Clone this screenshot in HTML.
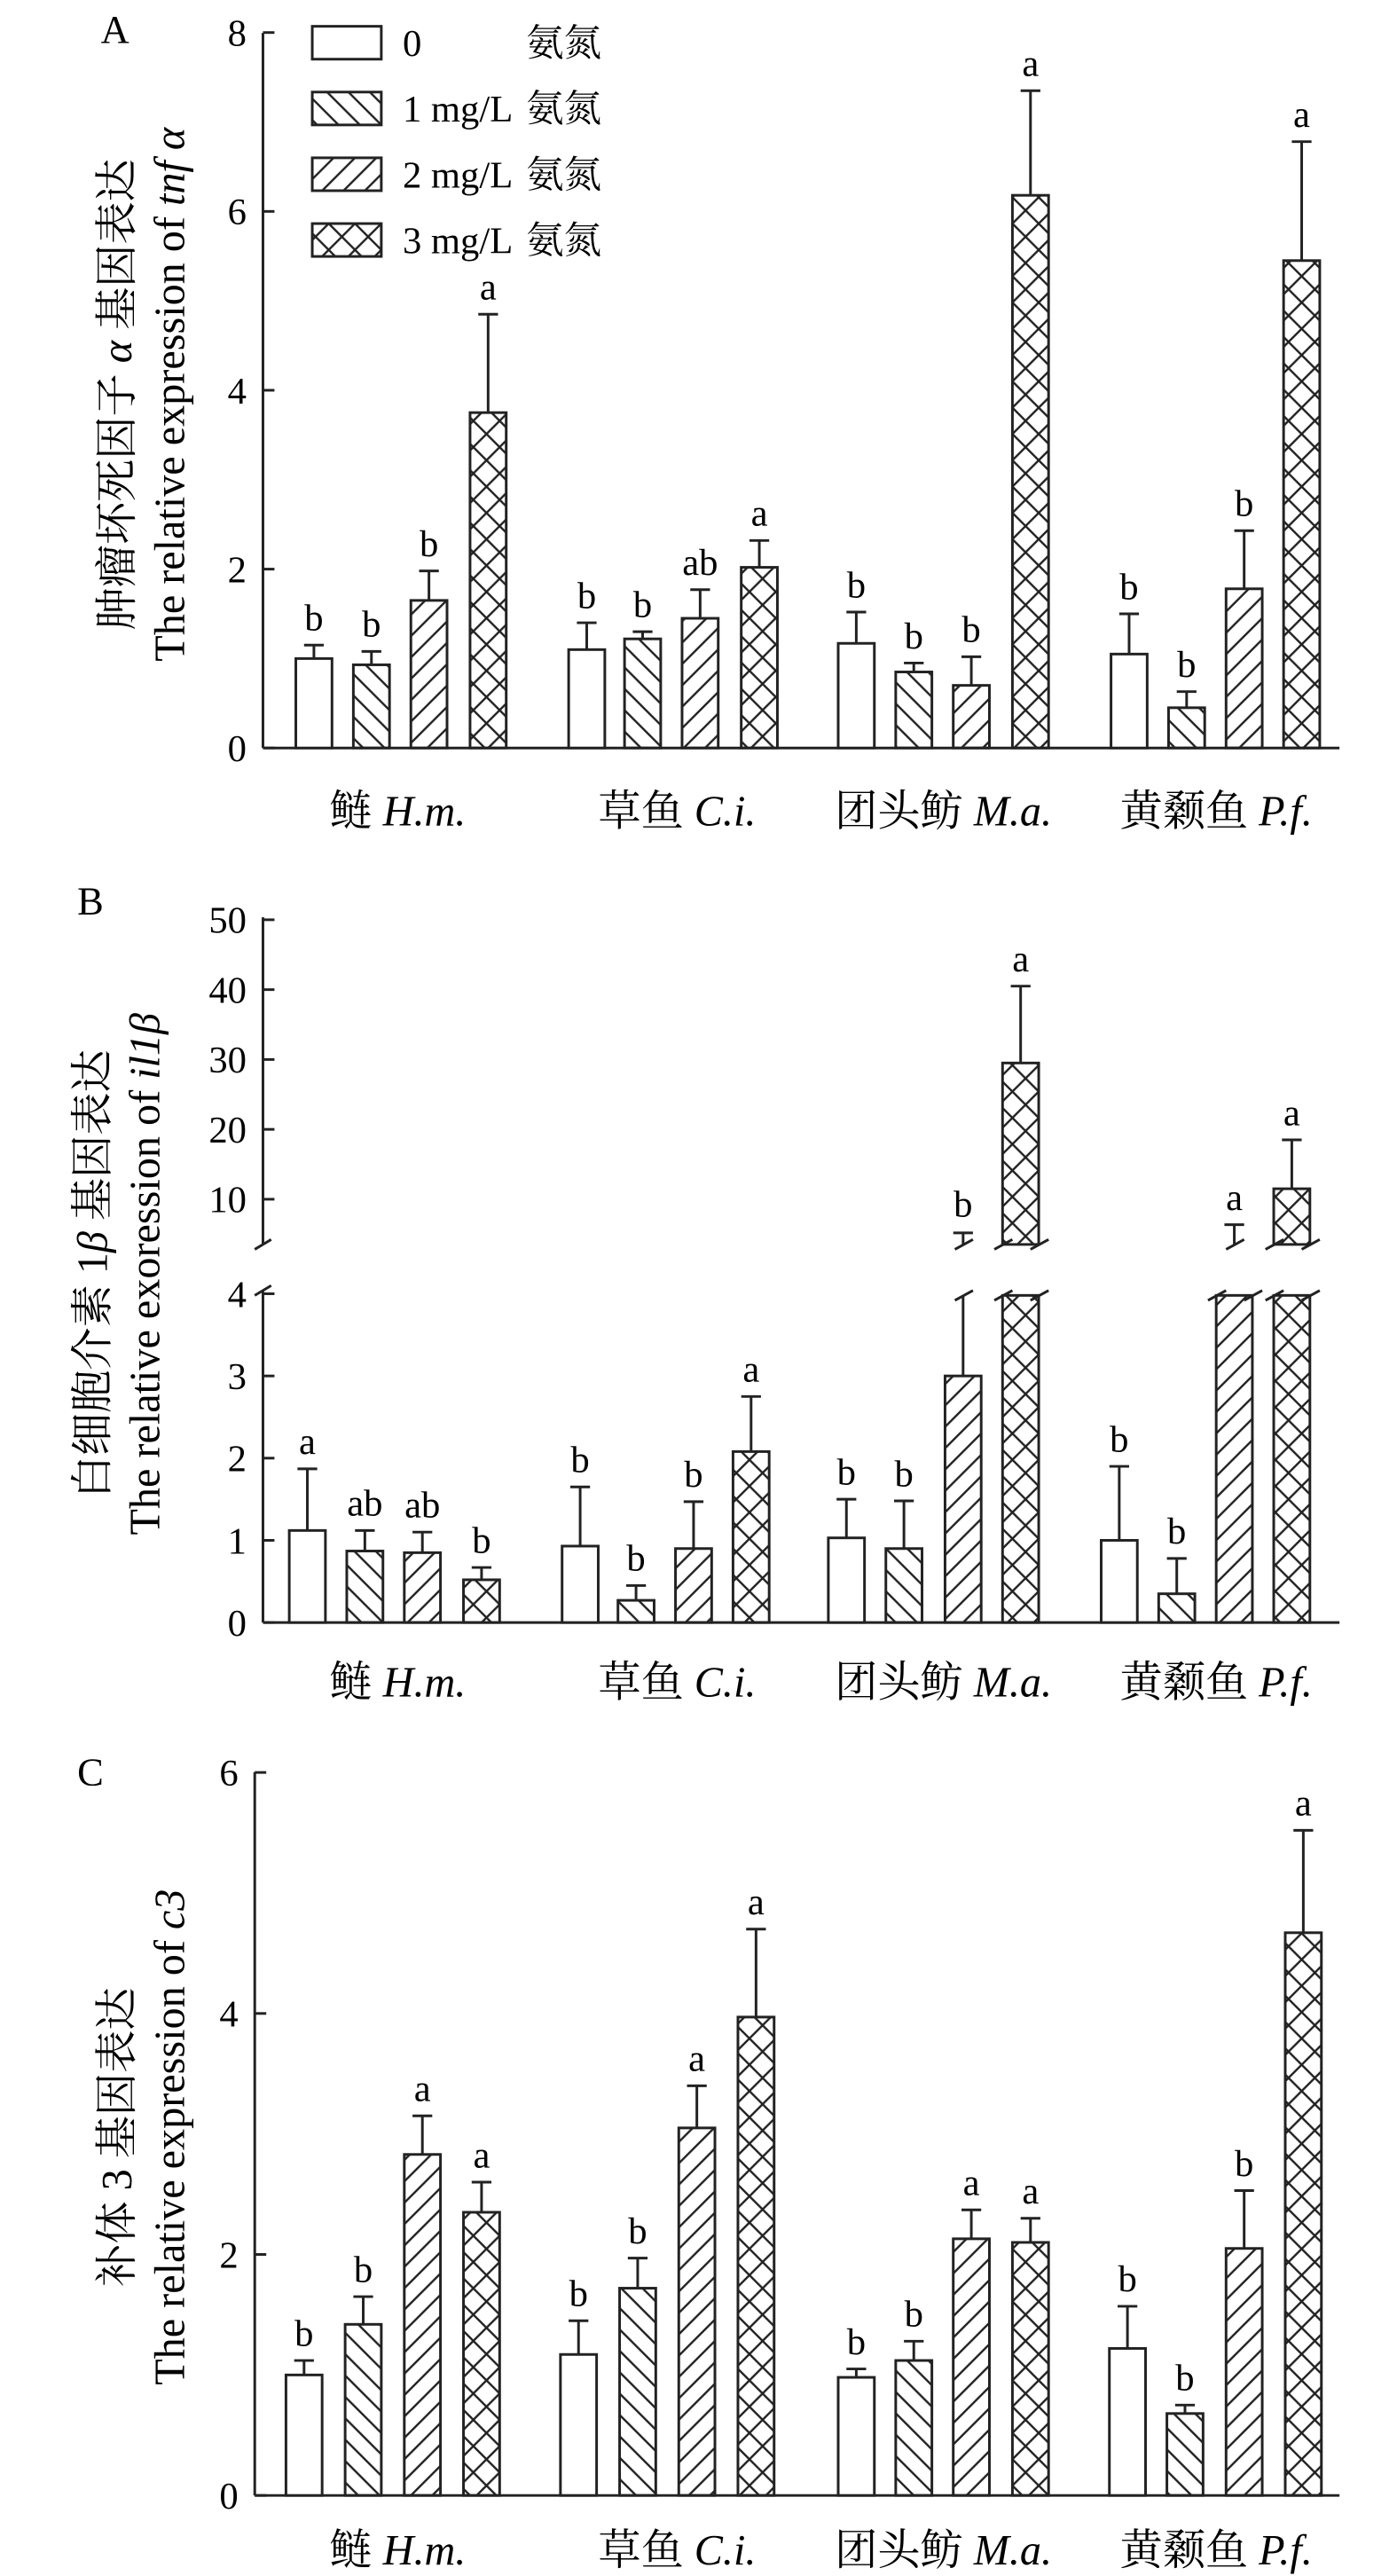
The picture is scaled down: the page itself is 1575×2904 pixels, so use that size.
<!DOCTYPE html>
<html><head><meta charset="utf-8"><style>
html,body{margin:0;padding:0;background:#fff}
svg{display:block}
text{font-family:"Liberation Serif","Noto Serif CJK SC","Noto Sans CJK SC",serif;fill:#000}
</style></head><body>
<svg id="s" width="1575" height="2904" viewBox="0 0 850 1567" preserveAspectRatio="none" xmlns="http://www.w3.org/2000/svg">
<defs>
<pattern id="p2" patternUnits="userSpaceOnUse" width="13" height="13"><path d="M-1,-1 L14,14 M-14,-1 L1,14 M12,-1 L27,14" stroke="#222" stroke-width="1.3"/></pattern>
<pattern id="p3" patternUnits="userSpaceOnUse" width="13" height="13"><path d="M-1,14 L14,-1 M-14,14 L1,-1 M12,14 L27,-1" stroke="#222" stroke-width="1.3"/></pattern>
<pattern id="p4" patternUnits="userSpaceOnUse" width="16" height="16"><path d="M-1,-1 L17,17 M-1,17 L17,-1" stroke="#222" stroke-width="1.3"/></pattern>
</defs>
<g id="g" stroke="#222" stroke-width="1.6" fill="none"></g>
<g id="t"></g>
</svg>
<script>
const G=document.getElementById('g'),T=document.getElementById('t');
function el(p,tag,a,txt){const e=document.createElementNS('http://www.w3.org/2000/svg',tag);for(const k in a)e.setAttribute(k,a[k]);if(txt!==undefined)e.innerHTML=txt;p.appendChild(e);return e;}
function line(x1,y1,x2,y2){el(G,'line',{x1,y1,x2,y2});}
function txt(x,y,s,size,anchor,extra){const a={x,y,'font-size':size||23,'text-anchor':anchor||'middle'};Object.assign(a,extra||{});return el(T,'text',a,s);}
const fills=['#fff','url(#p2)','url(#p3)','url(#p4)'];
function bar(x,w,y0,ytop,k,erry,lab){
  el(G,'rect',{x,y:ytop,width:w,height:y0-ytop,fill:fills[k]});
  if(erry!==null){const c=x+w/2;line(c,ytop,c,erry);line(c-6,erry,c+6,erry);}
  if(lab) txt(x+w/2,(erry!==null?erry:ytop)-9,lab,23);
}
function xlabels(y,cs){
 const L=[['鲢 ','H.m.'],['草鱼 ','C.i.'],['团头鲂 ','M.a.'],['黄颡鱼 ','P.f.']];
 L.forEach((l,i)=>{txt(cs[i],y,l[0]+'<tspan font-style="italic">'+l[1]+'</tspan>',26);});
}
// Panel A
(function(){
 const ax=160,y0=455,u=54.4;
 line(ax,20,ax,y0);line(ax,y0,815,y0);
 [0,2,4,6,8].forEach(v=>{const y=y0-v*u;line(ax,y,ax+7,y);txt(ax-10,y+8,v,23,'end');});
 const xs=[[180,215,250,286],[346,380,415,451],[510,545,580,616],[676,711,746,781]];
 const d=[[[1,1.15,'b'],[.93,1.08,'b'],[1.65,1.98,'b'],[3.75,4.85,'a']],
 [[1.1,1.4,'b'],[1.22,1.3,'b'],[1.45,1.77,'ab'],[2.02,2.32,'a']],
 [[1.17,1.52,'b'],[.85,.95,'b'],[.7,1.02,'b'],[6.18,7.35,'a']],
 [[1.05,1.5,'b'],[.45,.63,'b'],[1.78,2.43,'b'],[5.45,6.78,'a']]];
 d.forEach((g,i)=>g.forEach((b,k)=>bar(xs[i][k],22,y0,y0-b[0]*u,k,y0-b[1]*u,b[2])));
 xlabels(502,[242,412,574,740]);
 txt(70,26,'A',24);
 const lg=[['0','氨氮'],['1 mg/L','氨氮'],['2 mg/L','氨氮'],['3 mg/L','氨氮']];
 lg.forEach((l,k)=>{const y=16+k*40;el(G,'rect',{x:190,y,width:42,height:20,fill:fills[k]});
  txt(245,y+18,l[0],23,'start');txt(320,y+18,l[1],23,'start');});
 const cy=240;
 txt(0,0,'肿瘤坏死因子 <tspan font-style="italic">α</tspan> 基因表达',26,'middle',{transform:`translate(80,${cy}) rotate(-90)`});
 txt(0,0,'The relative expression of <tspan font-style="italic">tnf α</tspan>',26,'middle',{transform:`translate(112,${cy}) rotate(-90)`});
})();
// Panel B
(function(){
 const ax=160,y0=987,u=50,uy0=772,uu=4.25;
 const U=v=>uy0-v*uu, Lw=v=>y0-v*u;
 line(ax,558,ax,757);line(ax,785,ax,y0);line(ax,y0,815,y0);
 line(ax-5,760,ax+5,754);line(ax-5,788,ax+5,782);
 [0,1,2,3,4].forEach(v=>{const y=Lw(v);line(ax,y,ax+7,y);txt(ax-10,y+8,v,23,'end');});
 [10,20,30,40,50].forEach(v=>{const y=U(v);line(ax,y,ax+7,y);txt(ax-10,y+8,v,23,'end');});
 const xs=[[176,211,246,282],[342,376,411,446],[504,539,575,610],[670,705,740,775]];
 const d=[[[1.12,1.87,'a'],[.87,1.12,'ab'],[.85,1.1,'ab'],[.52,.67,'b']],
 [[.93,1.65,'b'],[.27,.45,'b'],[.9,1.47,'b'],[2.08,2.75,'a']],
 [[1.03,1.5,'b'],[.9,1.48,'b']],[[1,1.9,'b'],[.35,.78,'b']]];
 d.forEach((g,i)=>g.forEach((b,k)=>bar(xs[i][k],22,y0,Lw(b[0]),k,Lw(b[1]),b[2])));
 bar(575,22,y0,Lw(3.0),2,null,null);const c3=586;line(c3,Lw(3),c3,788);
 const brk=(x,y)=>line(x-5,y+3,x+6,y-3);
 brk(c3,788);
 line(c3,757,c3,750);line(c3-6,750,c3+6,750);brk(c3,757);txt(c3,740,'b',23);
 el(G,'rect',{x:610,y:788,width:22,height:y0-788,fill:fills[3]});
 el(G,'rect',{x:610,y:U(29.5),width:22,height:757-U(29.5),fill:fills[3]});
 line(621,U(29.5),621,U(40.5));line(615,U(40.5),627,U(40.5));txt(621,U(40.5)-9,'a',23);
 brk(610,788);brk(632,788);brk(610,757);brk(632,757);
 el(G,'rect',{x:740,y:788,width:22,height:y0-788,fill:fills[2]});brk(740,788);brk(762,788);
 line(751,757,751,745);line(745,745,757,745);brk(751,757);txt(751,736,'a',23);
 el(G,'rect',{x:775,y:788,width:22,height:y0-788,fill:fills[3]});
 el(G,'rect',{x:775,y:U(11.5),width:22,height:757-U(11.5),fill:fills[3]});
 line(786,U(11.5),786,U(18.5));line(780,U(18.5),792,U(18.5));txt(786,U(18.5)-9,'a',23);
 brk(775,788);brk(797,788);brk(775,757);brk(797,757);
 xlabels(1032,[242,412,574,740]);
 txt(55,556,'B',24);
 const cy=775;
 txt(0,0,'白细胞介素 1<tspan font-style="italic">β</tspan> 基因表达',26,'middle',{transform:`translate(65,${cy}) rotate(-90)`});
 txt(0,0,'The relative exoression of <tspan font-style="italic">il1β</tspan>',26,'middle',{transform:`translate(97,${cy}) rotate(-90)`});
})();
// Panel C
(function(){
 const ax=155,y0=1518,u=73.3;
 line(ax,1078,ax,y0);line(ax,y0,815,y0);
 [0,2,4,6].forEach(v=>{const y=y0-v*u;line(ax,y,ax+7,y);txt(ax-10,y+8,v,23,'end');});
 const xs=[[174,210,246,282],[341,377,413,449],[510,545,580,616],[675,710,746,782]];
 const d=[[[1,1.12,'b'],[1.42,1.65,'b'],[2.83,3.15,'a'],[2.35,2.6,'a']],
 [[1.17,1.45,'b'],[1.72,1.97,'b'],[3.05,3.4,'a'],[3.97,4.7,'a']],
 [[.98,1.05,'b'],[1.12,1.28,'b'],[2.13,2.37,'a'],[2.1,2.3,'a']],
 [[1.22,1.57,'b'],[.68,.75,'b'],[2.05,2.53,'b'],[4.67,5.52,'a']]];
 d.forEach((g,i)=>g.forEach((b,k)=>bar(xs[i][k],22,y0,y0-b[0]*u,k,y0-b[1]*u,b[2])));
 xlabels(1560,[242,412,574,740]);
 txt(55,1086,'C',24);
 const cy=1300;
 txt(0,0,'补体 3 基因表达',26,'middle',{transform:`translate(80,${cy}) rotate(-90)`});
 txt(0,0,'The relative expression of <tspan font-style="italic">c3</tspan>',26,'middle',{transform:`translate(112,${cy}) rotate(-90)`});
})();
</script>
</body></html>
